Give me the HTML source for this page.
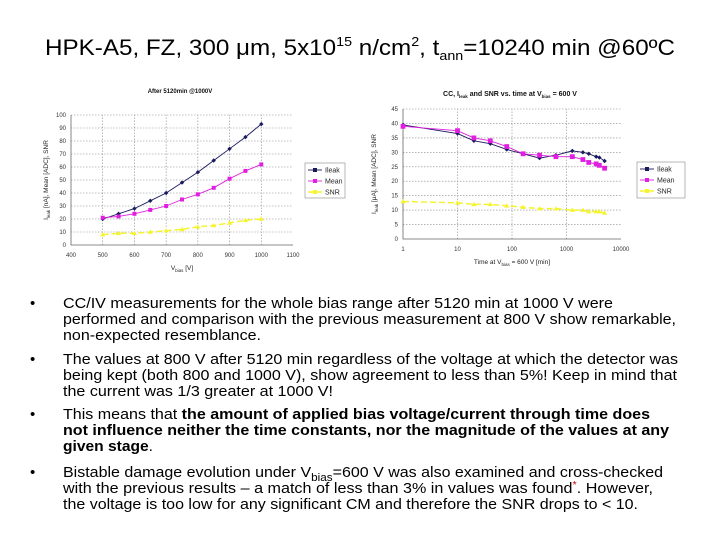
<!DOCTYPE html>
<html><head><meta charset="utf-8"><style>
html,body{margin:0;padding:0;background:#fff;width:720px;height:540px;overflow:hidden}
svg{display:block;font-family:"Liberation Sans",Arial,sans-serif}
</style></head><body>
<svg width="720" height="540" viewBox="0 0 720 540">
<text x="45" y="55" font-size="22" textLength="630" lengthAdjust="spacingAndGlyphs">HPK-A5, FZ, 300 μm, 5x10<tspan font-size="13" dy="-9">15</tspan><tspan dy="9"> n/cm</tspan><tspan font-size="13" dy="-9">2</tspan><tspan dy="9">, t</tspan><tspan font-size="13" dy="5">ann</tspan><tspan dy="-5">=10240 min @60ºC</tspan></text>
<g id="left"></g>
<g id="right"></g>
<g font-size="15" fill="#000">
<text x="30" y="308">•</text><text x="30" y="364">•</text><text x="30" y="419">•</text><text x="30" y="477">•</text>
<text x="63" y="308" textLength="550" lengthAdjust="spacingAndGlyphs">CC/IV measurements for the whole bias range after 5120 min at 1000 V were</text>
<text x="63" y="324" textLength="613" lengthAdjust="spacingAndGlyphs">performed and comparison with the previous measurement at 800 V show remarkable,</text>
<text x="63" y="340" textLength="198" lengthAdjust="spacingAndGlyphs">non-expected resemblance.</text>
<text x="63" y="364" textLength="615" lengthAdjust="spacingAndGlyphs">The values at 800 V after 5120 min regardless of the voltage at which the detector was</text>
<text x="63" y="380" textLength="614" lengthAdjust="spacingAndGlyphs">being kept (both 800 and 1000 V), show agreement to less than 5%! Keep in mind that</text>
<text x="63" y="396" textLength="270" lengthAdjust="spacingAndGlyphs">the current was 1/3 greater at 1000 V!</text>
<text x="63" y="419" textLength="587" lengthAdjust="spacingAndGlyphs">This means that <tspan font-weight="bold">the amount of applied bias voltage/current through time does</tspan></text>
<text x="63" y="435" textLength="606" lengthAdjust="spacingAndGlyphs" font-weight="bold">not influence neither the time constants, nor the magnitude of the values at any</text>
<text x="63" y="451" textLength="90" lengthAdjust="spacingAndGlyphs"><tspan font-weight="bold">given stage</tspan>.</text>
<text x="63" y="477" textLength="600" lengthAdjust="spacingAndGlyphs">Bistable damage evolution under V<tspan font-size="11" dy="4">bias</tspan><tspan dy="-4">=600 V was also examined and cross-checked</tspan></text>
<text x="63" y="493" textLength="590" lengthAdjust="spacingAndGlyphs">with the previous results – a match of less than 3% in values was found<tspan fill="#c00000" font-size="10" dy="-5">*</tspan><tspan dy="5">. However,</tspan></text>
<text x="63" y="509" textLength="575" lengthAdjust="spacingAndGlyphs">the voltage is too low for any significant CM and therefore the SNR drops to &lt; 10.</text>
</g>
</svg>
<script>
// Left chart data
const lx = [500,550,600,650,700,750,800,850,900,950,1000];
const lIleak = [20,24,28,34,40,48,56,65,74,83,93];
const lMean = [21,22,24,27,30,35,39,44,51,57,62];
const lSNR = [8,9,9,10,11,12,14,15,17,19,20];
const lxTicks = [400,500,600,700,800,900,1000,1100];
const lyTicks = [0,10,20,30,40,50,60,70,80,90,100];
// Right chart data
const rx = [1,10,20,40,80,160,320,640,1280,2000,2560,3500,4000,5000];
const rIleak = [39.5,36.5,34,33,31,29.5,28,29,30.5,30,29.5,28.5,28.2,27];
const rMean = [39,37.5,35,34,32,29.5,29,28.5,28.5,27.5,26.5,26,25.5,24.5];
const rSNR = [13,12.5,12,12,11.5,11,10.5,10.5,10,10,9.5,9.5,9.5,9];
const rxTicks = [1,10,100,1000,10000];
const ryTicks = [0,5,10,15,20,25,30,35,40,45];

const NS='http://www.w3.org/2000/svg';
function mk(p,tag,at){const e=document.createElementNS(NS,tag);for(const k in at)e.setAttribute(k,at[k]);p.appendChild(e);return e;}

function chart(g,o){
  const X=o.X,Y=o.Y;
  // grid
  o.yTicks.forEach(v=>{
    if(v>0){const l=mk(g,'line',{x1:o.x0,x2:o.x1,y1:Y(v),y2:Y(v),stroke:'#888','stroke-width':0.6,'stroke-dasharray':'1.5,1.5'});
    
    }
    const t=mk(g,'text',{x:o.x0-5,y:Y(v)+2,'font-size':6,'text-anchor':'end',fill:'#333'});t.textContent=v;
    
    
  });
  o.xTicks.forEach(v=>{
    if(o.vgrid(v)){const l=mk(g,'line',{x1:X(v),x2:X(v),y1:o.y0,y2:o.y1,stroke:'#888','stroke-width':0.6,'stroke-dasharray':'1.5,1.5'});
    
    }
    const t=mk(g,'text',{x:X(v),y:o.y0+12,'font-size':6,'text-anchor':'middle',fill:'#333'});t.textContent=v;
    
    
  });
  const ax=mk(g,'path',{d:`M${o.x0},${o.y1}V${o.y0}H${o.x1}`,fill:'none',stroke:'#666','stroke-width':0.8});
  
  
  const ser=[[o.s1,'#1a1a5e','d'],[o.s2,'#e020e0','s'],[o.s3,'#f4f430','t']];
  ser.forEach(([d,c,m],i)=>{
    const pts=o.xs.map((x,j)=>[X(x),Y(d[j])]);
    const pl=mk(g,'polyline',{points:pts.map(p=>p.join(',')).join(' '),fill:'none',stroke:c,'stroke-width':i==2?1.5:0.9,'stroke-dasharray':i==2?'6,3':'none'});
    
    
    pts.forEach(p=>{
      let e;
      if(m=='d')e=mk(g,'path',{d:`M${p[0]},${p[1]-2.2}l2.2,2.2l-2.2,2.2l-2.2,-2.2z`,fill:c});
      else if(m=='s')e=mk(g,'rect',{x:p[0]-o.ms,y:p[1]-o.ms,width:o.ms*2,height:o.ms*2,fill:c});
      else e=mk(g,'path',{d:`M${p[0]},${p[1]-2.6}l2.6,4.4h-5.2z`,fill:c});
      
      
    });
  });
  // legend
  const L=o.leg;
  const box=mk(g,'rect',{x:L.x,y:L.y,width:L.w,height:L.h,fill:'#fff',stroke:'#888','stroke-width':0.6});
  
  
  ['Ileak','Mean','SNR'].forEach((n,i)=>{
    const yy=L.y+7+i*11;const c=ser[i][1];
    const ln=mk(g,'line',{x1:L.x+3,x2:L.x+17,y1:yy,y2:yy,stroke:c,'stroke-width':i==2?1.5:0.9});
    
    
    const r=mk(g,'rect',{x:L.x+8,y:yy-2,width:4,height:4,fill:c});
    
    
    const t=mk(g,'text',{x:L.x+20,y:yy+2.5,'font-size':7,fill:'#222'});t.textContent=n;
    
    
  });
  const tt=mk(g,'text',{x:o.tx,y:o.ty,'font-size':o.tfs,'font-weight':'bold','text-anchor':'middle',fill:'#111'});tt.innerHTML=o.title;
  
  
  const xt=mk(g,'text',{x:(o.x0+o.x1)/2,y:o.y0+25,'font-size':6.5,'text-anchor':'middle',fill:'#222'});xt.innerHTML=o.xl;
  
  
  const yt=mk(g,'text',{x:0,y:0,'font-size':6.5,'text-anchor':'middle',fill:'#222',transform:`translate(${o.ylx},${(o.y0+o.y1)/2}) rotate(-90)`});yt.innerHTML=o.yl;
  
  
}

chart(document.getElementById('left'),{
  x0:71,x1:293,y0:245,y1:115,
  X:v=>71+(v-400)/700*222, Y:v=>245-v/100*130,
  xTicks:lxTicks,yTicks:lyTicks,vgrid:v=>v>=500&&v<=1000,
  xs:lx,s1:lIleak,s2:lMean,s3:lSNR,ms:2,
  leg:{x:305,y:163,w:40,h:35},
  title:'After 5120min @1000V',tx:180,ty:93,tfs:6,
  xl:'V<tspan font-size="4.5" dy="2">bias</tspan><tspan dy="-2"> [V]</tspan>',
  yl:'I<tspan font-size="4.5" dy="2">leak</tspan><tspan dy="-2"> [nA], Mean [ADC], SNR</tspan>',ylx:48
});
chart(document.getElementById('right'),{
  x0:403,x1:621,y0:239,y1:109,
  X:v=>403+Math.log10(v)*54.5, Y:v=>239-v/45*130,
  xTicks:rxTicks,yTicks:ryTicks,vgrid:v=>v>1&&v<10000,
  xs:rx,s1:rIleak,s2:rMean,s3:rSNR,ms:2.4,
  leg:{x:637,y:162,w:48,h:36},
  title:'CC, I<tspan font-size="4.5" dy="2">leak</tspan><tspan dy="-2"> and SNR vs. time at V</tspan><tspan font-size="4.5" dy="2">bias</tspan><tspan dy="-2"> = 600 V</tspan>',tx:510,ty:96,tfs:7,
  xl:'Time at V<tspan font-size="4.5" dy="2">bias</tspan><tspan dy="-2"> = 600 V [min]</tspan>',
  yl:'I<tspan font-size="4.5" dy="2">leak</tspan><tspan dy="-2"> [μA], Mean [ADC], SNR</tspan>',ylx:376
});
</script>
</body></html>
